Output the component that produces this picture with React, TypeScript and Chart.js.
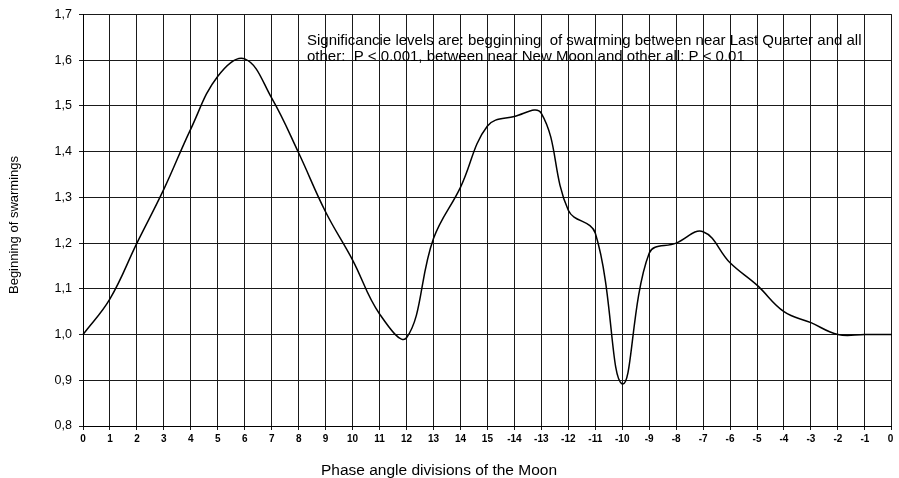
import React, { useEffect, useRef } from "react";
import { Chart, registerables } from "chart.js";

Chart.register(...registerables);

const categories = ["0","1","2","3","4","5","6","7","8","9","10","11","12","13","14","15","-14","-13","-12","-11","-10","-9","-8","-7","-6","-5","-4","-3","-2","-1","0 "];
const swarmings = [1.0,1.078,1.2,1.318,1.45,1.565,1.603,1.517,1.397,1.268,1.163,1.045,0.993,1.21,1.322,1.456,1.477,1.484,1.272,1.222,0.892,1.178,1.2,1.225,1.157,1.108,1.05,1.026,1.0,1.0,1.0];
const yTitle = "Beginning of swarmings";
const xTitle = "Phase angle divisions of the Moon";
const noteLines = [
  "Significancie levels are: begginning  of swarming between near Last Quarter and all",
  "other:  P < 0.001, between near New Moon and other all: P < 0.01",
];

export default function App() {
  const ref = useRef<HTMLCanvasElement | null>(null);
  useEffect(() => {
    if (!ref.current) return;
    const textPlugin = {
      id: "texts",
      afterDraw(chart: any) {
        const ctx = chart.ctx;
        ctx.save();
        ctx.fillStyle = "#000";
        ctx.font = "15px 'Liberation Sans', Arial, sans-serif";
        ctx.textBaseline = "alphabetic";
        ctx.textAlign = "left";
        ctx.fillText(noteLines[0], 307, 45);
        ctx.fillText(noteLines[1], 307, 61);
        ctx.textAlign = "center";
        ctx.font = "15.5px 'Liberation Sans', Arial, sans-serif";
        ctx.fillText(xTitle, 439, 475);
        ctx.font = "13px 'Liberation Sans', Arial, sans-serif";
        ctx.translate(17.5, 225);
        ctx.rotate(-Math.PI / 2);
        ctx.fillText(yTitle, 0, 0);
        ctx.restore();
      },
    };
    const chart = new Chart(ref.current, {
      type: "line",
      data: {
        labels: categories,
        datasets: [
          {
            data: swarmings,
            borderColor: "#000",
            borderWidth: 1.5,
            pointRadius: 0,
            tension: 0.4,
            fill: false,
          },
        ],
      },
      options: {
        animation: false,
        responsive: false,
        maintainAspectRatio: false,
        layout: { padding: { left: 0, right: 6, top: 13, bottom: 0 } },
        plugins: { legend: { display: false }, tooltip: { enabled: false }, title: { display: false } },
        scales: {
          x: {
            offset: false,
            grid: { color: "#1a1a1a", lineWidth: 1, drawTicks: true, tickLength: 4 },
            border: { color: "#000", width: 1 },
            ticks: {
              color: "#000",
              font: { family: "'Liberation Sans', Arial, sans-serif", size: 10, weight: "bold" },
              maxRotation: 0,
              autoSkip: false,
              padding: 3,
            },
            afterFit(scale: any) {
              scale.height = 52;
            },
          },
          y: {
            min: 0.8,
            max: 1.7,
            grid: { color: "#1a1a1a", lineWidth: 1, drawTicks: true, tickLength: 4 },
            border: { color: "#000", width: 1 },
            ticks: {
              stepSize: 0.1,
              color: "#000",
              font: { family: "'Liberation Sans', Arial, sans-serif", size: 12.5 },
              padding: 7,
              callback: (v: any) => Number(v).toFixed(1).replace(".", ","),
            },
            afterFit(scale: any) {
              scale.width = 83;
            },
          },
        },
      },
      plugins: [textPlugin],
    });
    return () => chart.destroy();
  }, []);
  return (
    <div style={{ position: "fixed", left: 0, top: 0, width: 899, height: 478, background: "#fff" }}>
      <canvas ref={ref} width={899} height={478} style={{ width: 899, height: 478 }} />
    </div>
  );
}
